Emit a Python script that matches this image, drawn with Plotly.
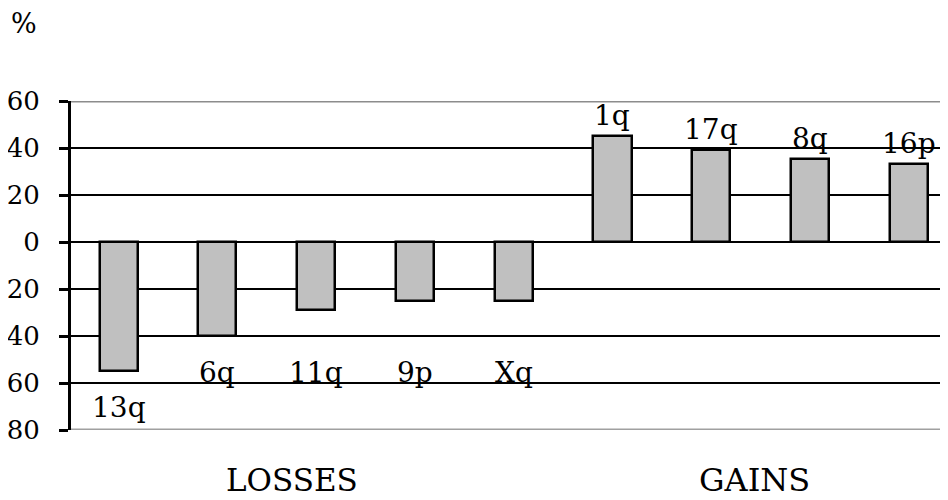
import plotly.graph_objects as go

# ---- data ----
categories = ["13q", "6q", "11q", "9p", "Xq", "1q", "17q", "8q", "16p"]
values = [-55, -40, -29, -25, -25, 45, 39, 35.5, 33]
group_names = ["LOSSES", "GAINS"]
tick_values = [-80, -60, -40, -20, 0, 20, 40, 60]
tick_labels = ["80", "60", "40", "20", "0", "20", "40", "60"]

FONT = "DejaVu Serif"
xpos = list(range(len(categories)))

fig = go.Figure()
fig.add_trace(go.Bar(
    x=xpos, y=values, width=0.385,
    marker=dict(color="#c0c0c0", line=dict(color="black", width=2.5)),
    hoverinfo="skip",
))

annotations = []
for i, (c, v) in enumerate(zip(categories, values)):
    if v < 0:
        annotations.append(dict(x=i, y=min(v, -40) - 10, text=c, showarrow=False,
                                xanchor="center", yanchor="top", yshift=6,
                                font=dict(family=FONT, size=28, color="black")))
    else:
        annotations.append(dict(x=i, y=v, text=c, showarrow=False,
                                xanchor="center", yanchor="bottom", yshift=2,
                                font=dict(family=FONT, size=28, color="black")))

annotations.append(dict(x=(284 - 63) / 877, y=-0.152, xref="paper", yref="paper",
                        text=group_names[0], showarrow=False,
                        xanchor="center", yanchor="middle",
                        font=dict(family=FONT, size=31, color="black")))
annotations.append(dict(x=(746.5 - 63) / 877, y=-0.152, xref="paper", yref="paper",
                        text=group_names[1], showarrow=False,
                        xanchor="center", yanchor="middle",
                        font=dict(family=FONT, size=32, color="black")))
annotations.append(dict(x=(15.5 - 63) / 877, y=1 + (93 - 15.5) / 329, xref="paper", yref="paper",
                        text="%", showarrow=False, xanchor="center", yanchor="middle",
                        font=dict(family=FONT, size=27, color="black")))

fig.update_layout(
    width=940, height=492,
    margin=dict(l=63, r=0, t=93, b=70),
    paper_bgcolor="white", plot_bgcolor="white",
    showlegend=False,
    bargap=0,
    annotations=annotations,
    shapes=[
        dict(type="line", xref="paper", yref="y", x0=0, x1=1, y0=60, y1=60,
             line=dict(color="#8c8c8c", width=3), layer="above"),
        dict(type="line", xref="paper", yref="y", x0=0, x1=1, y0=-80, y1=-80,
             line=dict(color="#a0a0a0", width=3), layer="above"),
    ],
)
fig.update_xaxes(range=[-0.481, 8.396], showticklabels=False, showgrid=False,
                 zeroline=False, showline=False, ticks="", automargin=False)
fig.update_yaxes(range=[-80, 60], tickvals=tick_values, ticktext=tick_labels,
                 automargin=False,
                 showgrid=True, gridcolor="black", gridwidth=2,
                 zeroline=True, zerolinecolor="black", zerolinewidth=2,
                 showline=True, linecolor="black", linewidth=3,
                 ticks="outside", ticklen=9, tickwidth=3, tickcolor="black",
                 ticklabelstandoff=14,
                 tickfont=dict(family=FONT, size=26, color="black"))

fig.write_html("out.html")
